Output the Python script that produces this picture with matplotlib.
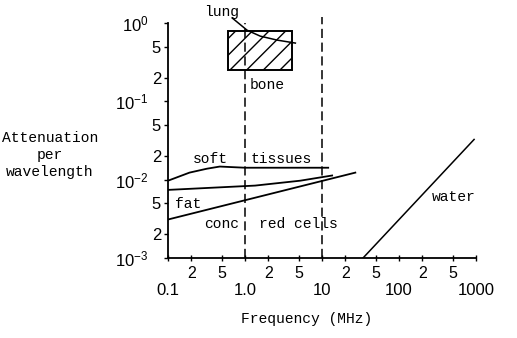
"""Attenuation per wavelength of tissues vs. frequency, log-log sketch"""

import numpy as np
import matplotlib
matplotlib.use("Agg")
import matplotlib.pyplot as plt
from matplotlib.patches import Rectangle
from matplotlib.ticker import FixedLocator, FuncFormatter

# Curves (frequency in MHz, attenuation per wavelength)
soft_freq = [0.1, 0.19, 0.32, 0.47, 1.0, 12.0]
soft_att = [0.0097, 0.0123, 0.0138, 0.0147, 0.0142, 0.0142]

red_freq = [0.1, 1.35, 5.2, 13.5]
red_att = [0.0074, 0.0084, 0.0097, 0.0113]

fat_freq = [0.1, 27.0]
fat_att = [0.0031, 0.0123]

water_freq = [34.0, 940.0]
water_att = [0.001, 0.0326]

lung_freq = [0.68, 1.06, 1.57, 2.6, 4.5]
lung_att = [1.16, 0.81, 0.68, 0.605, 0.554]

# Hatched bone region
bone_freq = [0.6, 4.1]
bone_att = [0.25, 0.79]

# Dashed markers at 1 MHz and 10 MHz
dash_freq = [1.0, 10.0]
dash_top = [1.0, 1.19]

# Labels on the plot
labels = ["lung", "bone", "soft", "tissues", "fat", "conc", "red cells", "water"]
label_freq = [0.49, 1.93, 0.35, 2.94, 0.182, 0.50, 4.87, 518.0]
label_att = [1.38, 0.16, 0.0186, 0.0186, 0.0049, 0.00273, 0.00273, 0.00605]

x_major = [0.1, 1.0, 10.0, 100.0, 1000.0]
x_major_labels = ["0.1", "1.0", "10", "100", "1000"]
x_minor = [0.2, 0.5, 2, 5, 20, 50, 200, 500]
y_major = [1e-3, 1e-2, 1e-1, 1.0]
y_major_labels = ["10$^{-3}$", "10$^{-2}$", "10$^{-1}$", "10$^{0}$"]
y_minor = [2e-3, 5e-3, 2e-2, 5e-2, 0.2, 0.5]

MONO = "Liberation Mono"
SANS = "Liberation Sans"


def mantissa_label(v, pos):
    """Return '2' or '5' for minor ticks"""
    m = v / 10 ** np.floor(np.log10(v) + 1e-9)
    return str(int(round(m)))


def main():
    plt.rcParams["mathtext.fontset"] = "custom"
    plt.rcParams["mathtext.rm"] = SANS
    plt.rcParams["mathtext.it"] = SANS
    plt.rcParams["hatch.linewidth"] = 1.0

    fig = plt.figure(figsize=(5.17, 3.38), dpi=100)
    ax = fig.add_axes([0.325, 0.2367, 0.596, 0.6953])

    ax.set_xscale("log")
    ax.set_yscale("log")
    ax.set_xlim(0.1, 1000)
    ax.set_ylim(1e-3, 1.0)

    lw = 1.3
    ax.plot(soft_freq, soft_att, color="black", lw=lw)
    ax.plot(red_freq, red_att, color="black", lw=lw)
    ax.plot(fat_freq, fat_att, color="black", lw=lw)
    ax.plot(water_freq, water_att, color="black", lw=1.1)
    ax.plot(lung_freq, lung_att, color="black", lw=1.1, clip_on=False)

    # Bone box
    ax.add_patch(Rectangle((bone_freq[0], bone_att[0]),
                           bone_freq[1] - bone_freq[0],
                           bone_att[1] - bone_att[0],
                           facecolor="none", edgecolor="black",
                           hatch="//", lw=1.4))

    # Dashed verticals
    for f, top in zip(dash_freq, dash_top):
        ax.plot([f, f], [1e-3, top], color="black", lw=1.1,
                dashes=(6, 3), clip_on=False)

    for text, f, a in zip(labels, label_freq, label_att):
        ax.text(f, a, text, family=MONO, fontsize=10.5,
                ha="center", va="center")

    # Axes look
    for side in ["top", "right"]:
        ax.spines[side].set_visible(False)
    for side in ["left", "bottom"]:
        ax.spines[side].set_linewidth(1.3)

    ax.xaxis.set_major_locator(FixedLocator(x_major))
    ax.xaxis.set_major_formatter(FuncFormatter(
        lambda v, pos: x_major_labels[pos] if pos is not None else ""))
    ax.xaxis.set_minor_locator(FixedLocator(x_minor))
    ax.xaxis.set_minor_formatter(FuncFormatter(mantissa_label))

    ax.yaxis.set_major_locator(FixedLocator(y_major))
    ax.yaxis.set_major_formatter(FuncFormatter(
        lambda v, pos: y_major_labels[pos] if pos is not None else ""))
    ax.yaxis.set_minor_locator(FixedLocator(y_minor))
    ax.yaxis.set_minor_formatter(FuncFormatter(mantissa_label))

    ax.tick_params(axis="x", which="both", direction="inout", length=4,
                   width=1.0)
    ax.tick_params(axis="x", which="major", pad=16, labelsize=12)
    ax.tick_params(axis="x", which="minor", pad=4, labelsize=11.5)
    ax.tick_params(axis="y", which="both", direction="out", length=3,
                   width=1.0)
    ax.tick_params(axis="y", which="major", pad=11, labelsize=12)
    ax.tick_params(axis="y", which="minor", pad=2, labelsize=12)
    for lab in ax.get_xticklabels(which="both") + ax.get_yticklabels(which="both"):
        lab.set_family(SANS)

    fig.text(50 / 517, 1 - 155 / 338, "Attenuation\nper\nwavelength",
             family=MONO, fontsize=10.5, ha="center", va="center",
             linespacing=1.3)
    fig.text(307 / 517, 1 - 319 / 338, "Frequency (MHz)",
             family=MONO, fontsize=10.5, ha="center", va="center")

    fig.savefig("out.png", dpi=100)


if __name__ == "__main__":
    main()
